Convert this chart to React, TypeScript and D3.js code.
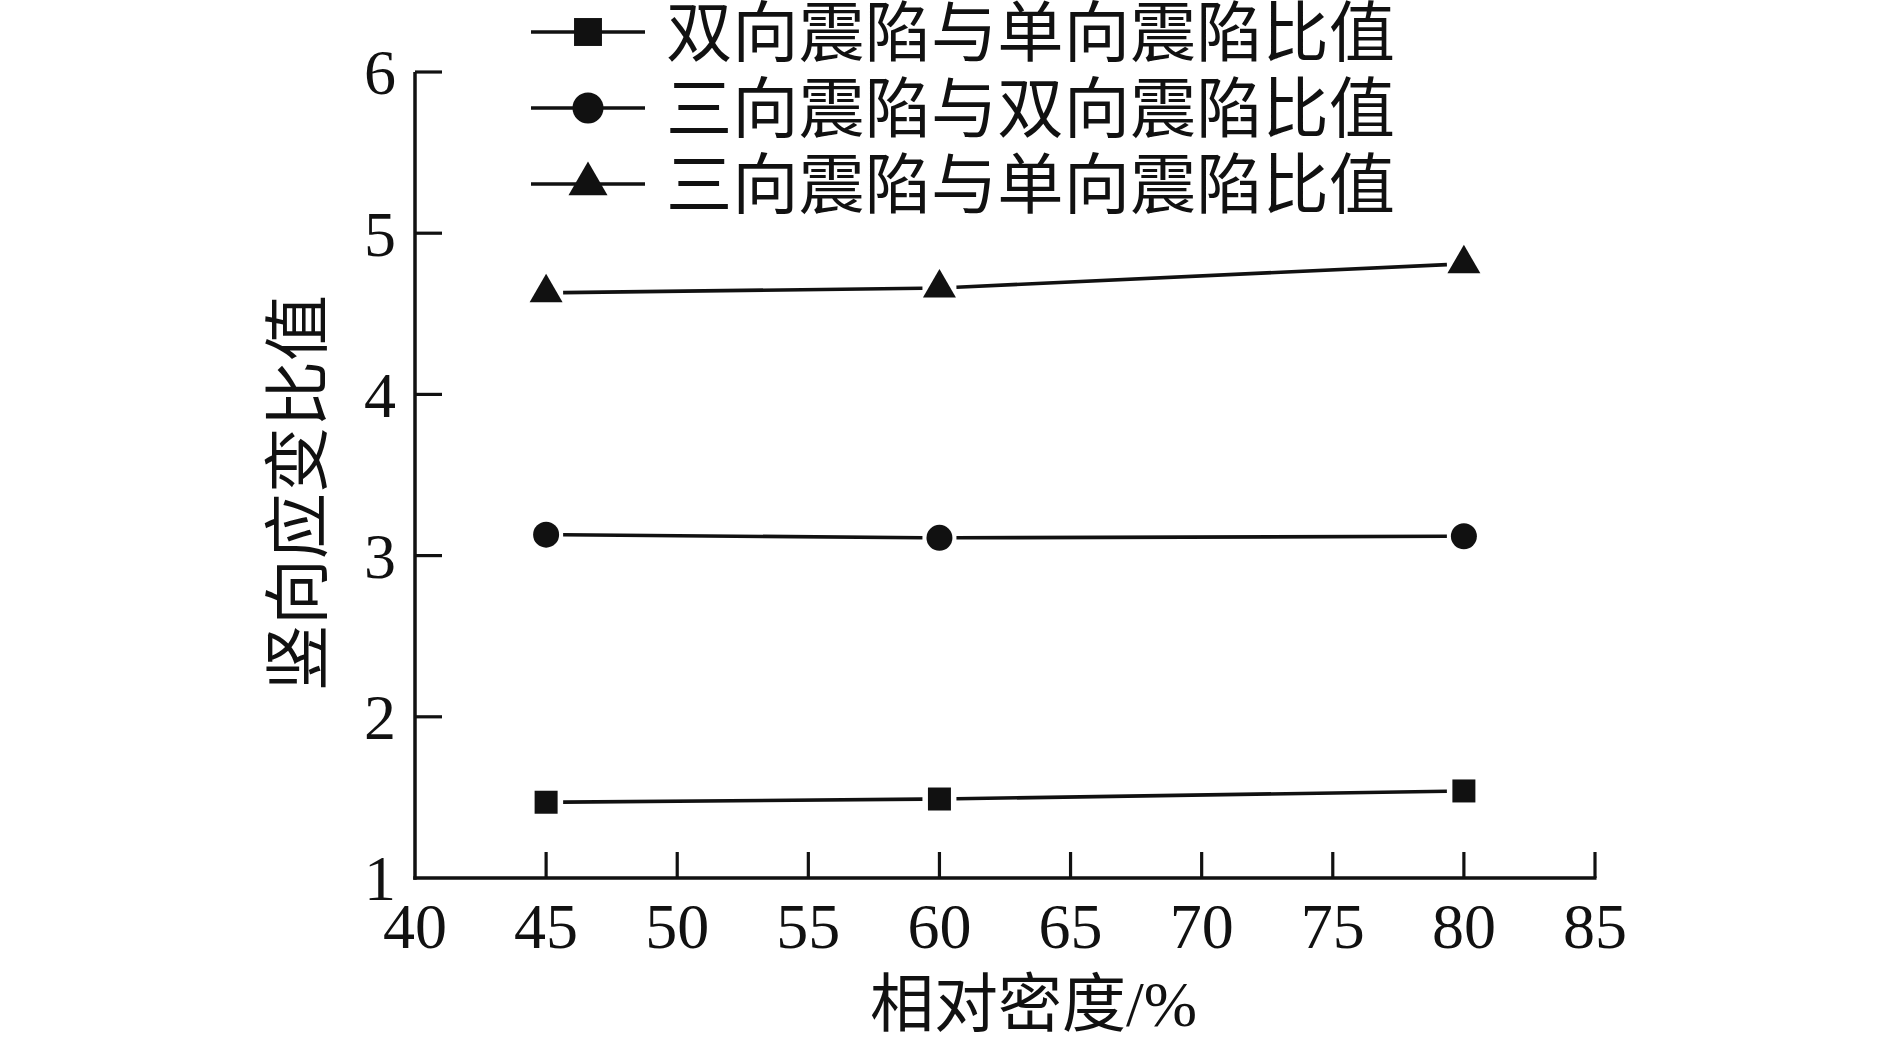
import React from 'react';
import * as d3 from 'd3';

const xValues = [45, 60, 80];
const seriesNames = ['双向震陷与单向震陷比值', '三向震陷与双向震陷比值', '三向震陷与单向震陷比值'];
const biVsUni = [1.47, 1.49, 1.54];
const triVsBi = [3.13, 3.11, 3.12];
const triVsUni = [4.63, 4.66, 4.81];
const xTicks = [40, 45, 50, 55, 60, 65, 70, 75, 80, 85];
const yTicks = [1, 2, 3, 4, 5, 6];
const xTitle = '相对密度';
const xTitleUnit = '/%';
const yTitle = '竖向应变比值';

const W = 1889;
const H = 1037;
const CJK = '"Noto Sans CJK SC", "Noto Sans CJK JP", sans-serif';
const SERIF = '"Liberation Serif", "Times New Roman", serif';

const x = d3.scaleLinear().domain([40, 85]).range([415, 1595]);
const y = d3.scaleLinear().domain([1, 6]).range([878, 72]);

const series = [
  { name: seriesNames[0], values: biVsUni, shape: d3.symbolSquare, size: 529, legendSize: 780 },
  { name: seriesNames[1], values: triVsBi, shape: d3.symbolCircle, size: 531, legendSize: 755 },
  { name: seriesNames[2], values: triVsUni, shape: d3.symbolTriangle, size: 471, legendSize: 660 },
];

const GAP = 17;

function segments(vals: number[]) {
  const pts = xValues.map((xv, i) => [x(xv), y(vals[i])] as [number, number]);
  const segs: [number, number][][] = [];
  for (let i = 0; i < pts.length - 1; i++) {
    const [x0, y0] = pts[i];
    const [x1, y1] = pts[i + 1];
    const dx = x1 - x0;
    const dy = y1 - y0;
    const len = Math.hypot(dx, dy);
    const ux = dx / len;
    const uy = dy / len;
    segs.push([
      [x0 + ux * GAP, y0 + uy * GAP],
      [x1 - ux * GAP, y1 - uy * GAP],
    ]);
  }
  return segs;
}

const line = d3.line<[number, number]>();

export default function App() {
  const legendRows = [32, 108, 184];
  return (
    <svg
      width={W}
      height={H}
      viewBox={`0 0 ${W} ${H}`}
      style={{ position: 'absolute', left: 0, top: 0, background: '#fff' }}
    >
      <rect x={0} y={0} width={W} height={H} fill="#fff" />
      {/* axes */}
      <g stroke="#111" strokeWidth={3.5} fill="none">
        <line x1={415} y1={y(6)} x2={415} y2={y(1) + 1.75} />
        <line x1={415 - 1.75} y1={y(1)} x2={x(85) + 1.5} y2={y(1)} />
        {yTicks.slice(1).map((t) => (
          <line key={'yt' + t} x1={415} x2={415 + 27} y1={y(t)} y2={y(t)} strokeWidth={3.2} />
        ))}
        {xTicks.slice(1).map((t) => (
          <line key={'xt' + t} x1={x(t)} x2={x(t)} y1={y(1)} y2={y(1) - 26} strokeWidth={3.2} />
        ))}
      </g>
      {/* tick labels */}
      <g fontFamily={SERIF} fontSize={64} fill="#111">
        {yTicks.map((t) => (
          <text key={'yl' + t} x={396} y={y(t)} dy="0.35em" textAnchor="end">
            {t}
          </text>
        ))}
        {xTicks.map((t) => (
          <text key={'xl' + t} x={x(t)} y={948} textAnchor="middle">
            {t}
          </text>
        ))}
      </g>
      {/* axis titles */}
      <text x={870} y={1026} fontSize={64} fill="#111" fontFamily={CJK}>
        {xTitle}
        <tspan fontFamily={SERIF}>{xTitleUnit}</tspan>
      </text>
      <text
        transform={`translate(297, 493) rotate(-90)`}
        textAnchor="middle"
        dy="0.36em"
        fontSize={66}
        fill="#111"
        fontFamily={CJK}
      >
        {yTitle}
      </text>
      {/* series */}
      {series.map((s, si) => (
        <g key={'s' + si}>
          {segments(s.values).map((seg, k) => (
            <path key={k} d={line(seg) || ''} stroke="#111" strokeWidth={3.6} fill="none" />
          ))}
          {s.values.map((v, i) => (
            <path
              key={'m' + i}
              transform={`translate(${x(xValues[i])}, ${y(v)})`}
              d={d3.symbol(s.shape, s.size)() || ''}
              fill="#111"
            />
          ))}
        </g>
      ))}
      {/* legend */}
      {series.map((s, si) => (
        <g key={'lg' + si}>
          <line x1={531} x2={645} y1={legendRows[si]} y2={legendRows[si]} stroke="#111" strokeWidth={3.6} />
          <path
            transform={`translate(588, ${legendRows[si]})`}
            d={d3.symbol(s.shape, s.legendSize)() || ''}
            fill="#111"
          />
          <text
            x={666}
            y={legendRows[si]}
            dy="0.36em"
            fontSize={66}
            textLength={729}
            lengthAdjust="spacingAndGlyphs"
            fill="#111"
            fontFamily={CJK}
          >
            {s.name}
          </text>
        </g>
      ))}
    </svg>
  );
}
